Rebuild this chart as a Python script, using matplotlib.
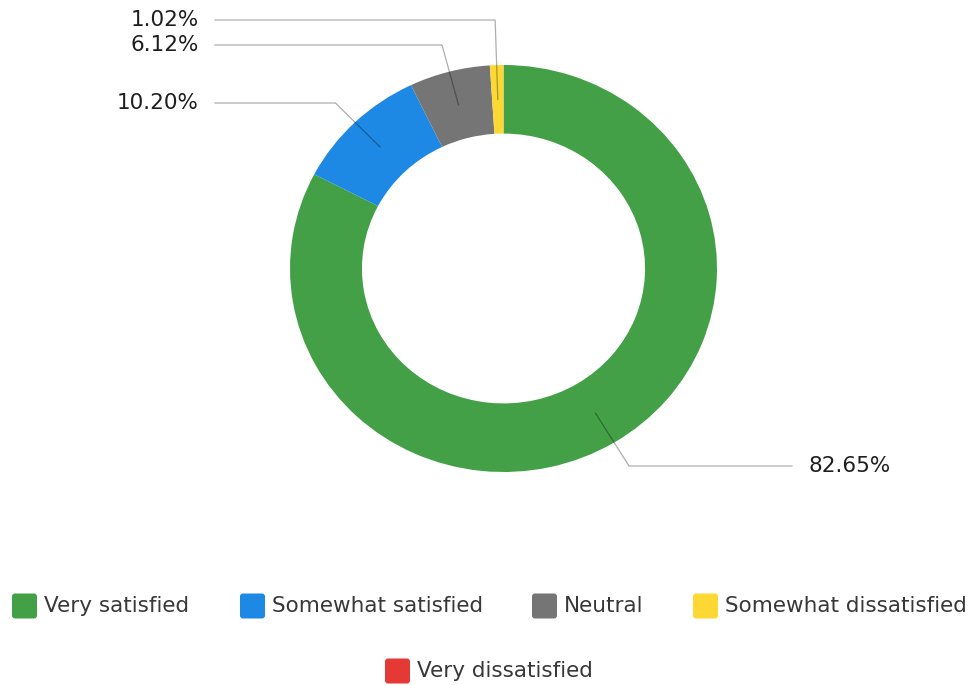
import numpy as np
import matplotlib.pyplot as plt
from matplotlib.patches import FancyBboxPatch

plt.rcParams['font.family'] = ['DejaVu Sans']

# Survey results
categories = ["Very satisfied", "Somewhat satisfied", "Neutral",
              "Somewhat dissatisfied", "Very dissatisfied"]
shares = [82.65, 10.20, 6.12, 1.02, 0.0]
colors = ["#43A047", "#1E88E5", "#757575", "#FDD835", "#E53935"]

W, H = 974, 685
fig = plt.figure(figsize=(W / 100, H / 100), dpi=100)
fig.patch.set_facecolor("white")

# Donut axes (pixel box of the ring)
x0, x1, y0, y1 = 290, 717, 65, 472
ax = fig.add_axes([x0 / W, 1 - y1 / H, (x1 - x0) / W, (y1 - y0) / H])
hole = 0.663
wedges, _ = ax.pie(shares, colors=colors, startangle=90, counterclock=False,
                   radius=1.0, wedgeprops=dict(width=1 - hole, linewidth=0))
ax.set_xlim(-1, 1)
ax.set_ylim(-1, 1)
ax.set_aspect("auto")
ax.axis("off")

# Overlay in pixel coordinates for leader lines, labels and legend
ov = fig.add_axes([0, 0, 1, 1])
ov.set_xlim(0, W)
ov.set_ylim(H, 0)
ov.set_facecolor("none")
ov.axis("off")


def to_px(x, y):
    disp = ax.transData.transform((x, y))
    return ov.transData.inverted().transform(disp)


# label rows (pixel y) and side for each nonzero slice
label_rows = {0: (466, "right"), 1: (103, "left"), 2: (45, "left"), 3: (20, "left")}
mid_r = (1 + hole) / 2
for i, w in enumerate(wedges):
    if shares[i] <= 0:
        continue
    ang = np.deg2rad((w.theta1 + w.theta2) / 2)
    ax_, ay_ = to_px(mid_r * np.cos(ang), mid_r * np.sin(ang))
    ox, oy = to_px(1.5 * np.cos(ang), 1.5 * np.sin(ang))
    ly, side = label_rows[i]
    slope = (ox - ax_) / (oy - ay_)
    ex = ax_ + (ly - ay_) * slope
    if side == "left":
        tx_line, tx_text, ha = 215, 199, "right"
    else:
        tx_line, tx_text, ha = 792, 808, "left"
    ov.plot([ax_, ex, tx_line], [ay_, ly, ly], color="black", alpha=0.32,
            lw=0.9, solid_joinstyle="miter")
    ov.text(tx_text, ly, f"{shares[i]:.2f}%", ha=ha, va="center",
            fontsize=15.5, color="#1e1e1e")

# Legend
legend_x = [12, 240, 532, 693, 385]
legend_y = [606, 606, 606, 606, 671]
box = 25
for name, col, lx, ly in zip(categories, colors, legend_x, legend_y):
    ov.add_patch(FancyBboxPatch((lx + 3, ly - box / 2 + 3), box - 6, box - 6,
                                boxstyle="round,pad=3", facecolor=col,
                                edgecolor="none"))
    ov.text(lx + box + 7, ly, name, ha="left", va="center", fontsize=15.5,
            color="#383838")

fig.savefig("out.png", dpi=100, facecolor="white")
